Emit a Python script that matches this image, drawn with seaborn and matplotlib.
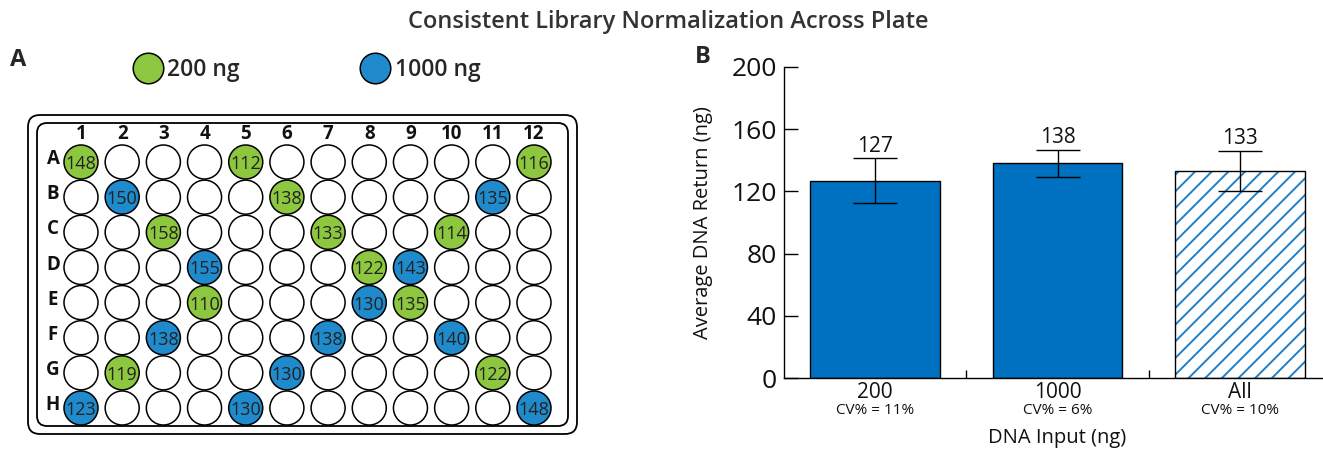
import numpy as np
import pandas as pd
import matplotlib
matplotlib.use('Agg')
import matplotlib.pyplot as plt
from matplotlib.patches import FancyBboxPatch, Rectangle
from matplotlib.lines import Line2D
import matplotlib.transforms as mtransforms
import seaborn as sns

# --------------------
# DATA
# --------------------
row_names = list('ABCDEFGH')
col_names = list(range(1, 13))

wells_200 = ['A1', 'A5', 'A12', 'B6', 'C3', 'C7', 'C10', 'D8', 'E4', 'E9', 'G2', 'G11']
vals_200 = [148, 112, 116, 138, 158, 133, 114, 122, 110, 135, 119, 122]
wells_1000 = ['B2', 'B11', 'D4', 'D9', 'E8', 'F3', 'F7', 'F10', 'G6', 'H1', 'H5', 'H12']
vals_1000 = [150, 135, 155, 143, 130, 138, 138, 140, 130, 123, 130, 148]

groups = ['200', '1000', 'All']
mean_return = [127, 138, 133]
sd_return = [14.3, 8.8, 13.0]
cv_labels = ['CV% = 11%', 'CV% = 6%', 'CV% = 10%']
y_ticks = [0, 40, 80, 120, 160, 200]

green = '#8DC63F'
well_blue = '#1F8BCC'
bar_blue = '#0070C0'
hatch_blue = '#1F80C8'

# --------------------
# STYLE
# --------------------
sns.set_theme(style='white')
plt.rcParams['font.family'] = ['Open Sans', 'DejaVu Sans']
plt.rcParams['hatch.linewidth'] = 1.4
plt.rcParams['hatch.color'] = hatch_blue

W, H = 1323, 449
fig = plt.figure(figsize=(W / 100, H / 100), dpi=100)

# --------------------
# PANEL A: plate
# --------------------
rows, cols, vals, grp = [], [], [], []
lookup = {}
for w, v in zip(wells_200, vals_200):
    lookup[w] = (v, '200 ng')
for w, v in zip(wells_1000, vals_1000):
    lookup[w] = (v, '1000 ng')
for ri, r in enumerate(row_names):
    for c in col_names:
        key = f'{r}{c}'
        v, g = lookup.get(key, (np.nan, 'empty'))
        rows.append(ri)
        cols.append(c)
        vals.append(v)
        grp.append(g)
wells = pd.DataFrame({'row': rows, 'col': cols, 'value': vals, 'group': grp})

ax_p = fig.add_axes([0, 0, 600 / W, 1])
# pixel anchors: col 1 -> 81px, col 12 -> 534px ; row A -> 162px, row H -> 408px
ux = 11 / (534 - 81)
uy = 7 / (408 - 162)
x0 = 1 - 81 * ux
y0 = 0 - 162 * uy


def px2x(px):
    return x0 + px * ux


def px2y(py):
    return y0 + py * uy


sns.scatterplot(data=wells, x='col', y='row', hue='group',
                palette={'empty': 'white', '200 ng': green, '1000 ng': well_blue},
                s=600, edgecolor='black', linewidth=1.1, legend=False, ax=ax_p, zorder=3)
ax_p.set_xlim(px2x(0), px2x(600))
ax_p.set_ylim(px2y(H), px2y(0))
ax_p.axis('off')

for _, r in wells.dropna().iterrows():
    ax_p.text(r.col, r.row, f'{int(r.value)}', ha='center', va='center_baseline',
              fontsize=13, color='#222222', zorder=4)

for c in col_names:
    ax_p.text(c, px2y(134), str(c), ha='center', va='center', fontsize=13.5,
              fontweight='bold', color='#111111')
for ri, r in enumerate(row_names):
    ax_p.text(px2x(53), ri - 0.08, r, ha='center', va='center', fontsize=13.5,
              fontweight='bold', color='#111111')

asp = uy / ux
for (l, t, rgt, b, rad) in [(28, 115, 577, 434, 12), (37, 123, 568, 426, 10)]:
    ax_p.add_patch(FancyBboxPatch((px2x(l), px2y(t)), px2x(rgt) - px2x(l), px2y(b) - px2y(t),
                                  boxstyle=f'round,pad=0,rounding_size={rad * ux}',
                                  mutation_aspect=asp, fill=False, ec='black', lw=1.3, zorder=2))

handles = [Line2D([], [], marker='o', ls='', ms=22, mfc=green, mec='black', mew=1.1, label='200 ng'),
           Line2D([], [], marker='o', ls='', ms=22, mfc=well_blue, mec='black', mew=1.1, label='1000 ng')]
ax_p.legend(handles=handles, loc='center', bbox_to_anchor=(306 / 600, 1 - 70 / H), ncol=2,
            frameon=False, handlelength=1.4, handletextpad=0.15, columnspacing=5.2,
            prop={'size': 16.5, 'weight': 'semibold'})

# --------------------
# PANEL B: bars
# --------------------
ax_b = fig.add_axes([784 / W, 1 - 378 / H, (W - 784) / W, (378 - 67) / H])
sns.barplot(x=groups, y=mean_return, color=bar_blue, saturation=1, edgecolor='black',
            linewidth=1, width=0.71, errorbar=None, ax=ax_b, zorder=2)

hp = ax_b.patches[2]
hp.set_facecolor('white')
hp.set_edgecolor(hatch_blue)
hp.set_hatch('//')
hp.set_linewidth(0)
ax_b.add_patch(Rectangle((hp.get_x(), hp.get_y()), hp.get_width(), hp.get_height(),
                         fill=False, ec='black', lw=1, zorder=3))

xpos = np.arange(len(groups))
ax_b.errorbar(xpos, mean_return, yerr=sd_return, fmt='none', ecolor='black',
              elinewidth=1, capsize=16, capthick=1, zorder=4)
for x, m, s in zip(xpos, mean_return, sd_return):
    ax_b.text(x, m + s + 1, str(m), ha='center', va='bottom', fontsize=15, color='#111111')

ax_b.set_xlim(-0.5, 2 + (W - 1240) / 182.5)
ax_b.set_ylim(0, 200)
ax_b.set_yticks(y_ticks)
ax_b.set_xticks(xpos)
ax_b.set_xticklabels(groups)
ax_b.set_xticks([0.5, 1.5], minor=True)
ax_b.tick_params(axis='x', which='major', length=0, labelsize=15, pad=3, colors='#111111')
ax_b.tick_params(axis='x', which='minor', direction='in', length=6, width=1, bottom=True,
                 color='black')
ax_b.tick_params(axis='y', direction='in', length=10, width=1, labelsize=19, pad=5,
                 left=True, color='black', labelcolor='#111111')
for side in ['top', 'right']:
    ax_b.spines[side].set_visible(False)
for side in ['left', 'bottom']:
    ax_b.spines[side].set_color('black')
    ax_b.spines[side].set_linewidth(1)

trans = mtransforms.blended_transform_factory(ax_b.transData, ax_b.transAxes)
for x, cv in zip(xpos, cv_labels):
    ax_b.text(x, -0.103, cv, transform=trans, ha='center', va='center', fontsize=11,
              color='#111111')

ax_b.set_ylabel('Average DNA Return (ng)', fontsize=14.5, color='#111111')
ax_b.yaxis.set_label_coords(-0.132, 0.5)
ax_b.set_xlabel('DNA Input (ng)', fontsize=14.5, color='#111111')
ax_b.xaxis.set_label_coords((1057 - 784) / (W - 784), -0.16)

# --------------------
# TITLES
# --------------------
fig.text(668 / W, 1 - 22 / H, 'Consistent Library Normalization Across Plate', ha='center',
         va='center', fontsize=17, fontweight='semibold', color='#333333')
fig.text(18 / W, 1 - 60 / H, 'A', ha='center', va='center', fontsize=17, fontweight='bold')
fig.text(703 / W, 1 - 57 / H, 'B', ha='center', va='center', fontsize=17, fontweight='bold')

fig.savefig('out.png', dpi=100)
